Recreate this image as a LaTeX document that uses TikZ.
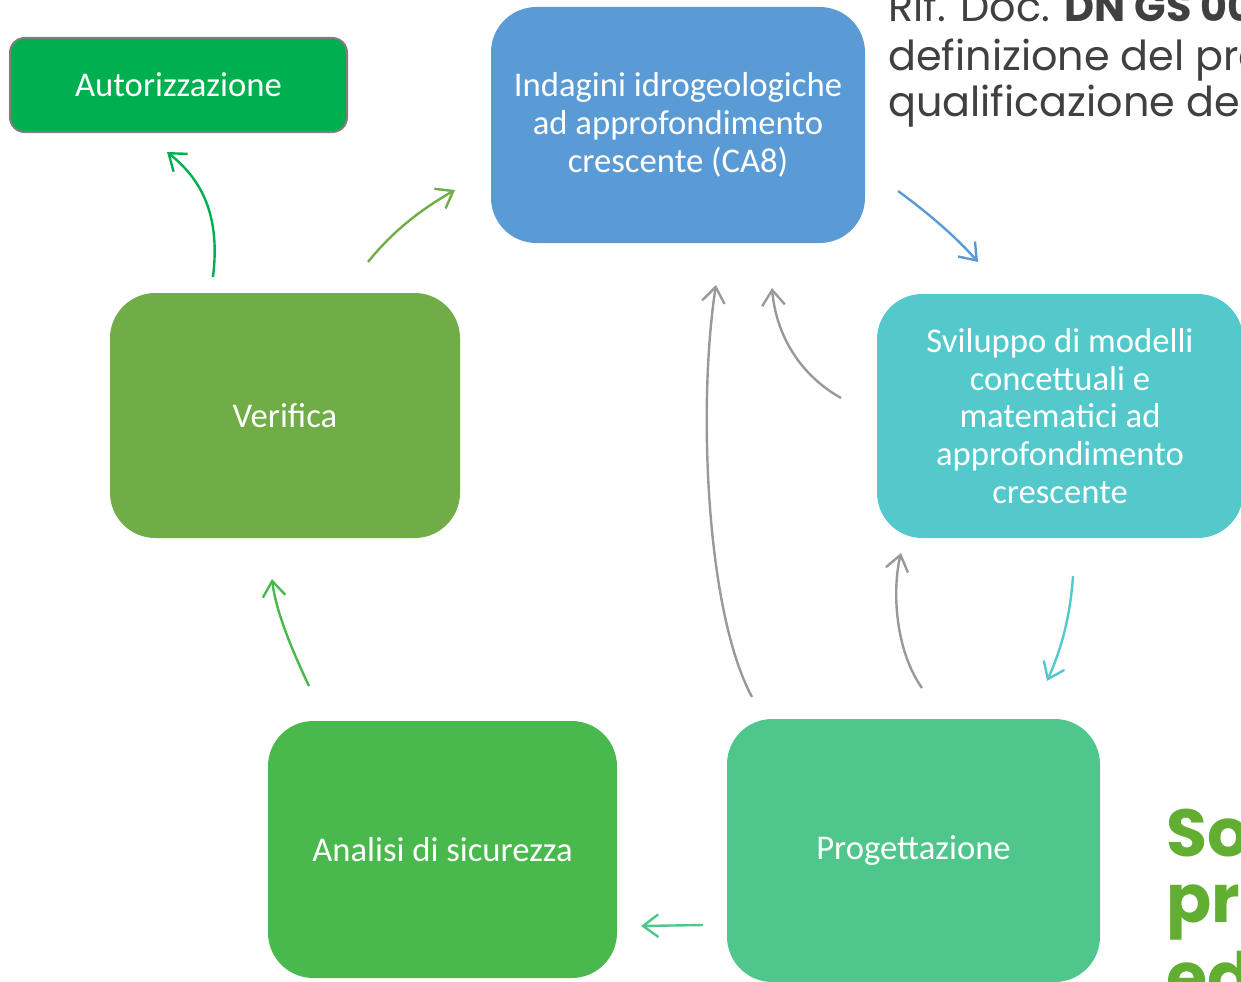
\documentclass[tikz,border=0pt]{standalone}
\usepackage{fontspec}
\setmainfont{Carlito}
\newfontfamily\geo{Poppins}
\usetikzlibrary{arrows.meta}
\definecolor{cAut}{HTML}{00B050}
\definecolor{cInd}{HTML}{5B9BD5}
\definecolor{cSvi}{HTML}{53C9CC}
\definecolor{cVer}{HTML}{70AD47}
\definecolor{cAna}{HTML}{49B94D}
\definecolor{cPro}{HTML}{4FC68C}
\definecolor{cGray}{HTML}{999999}
\definecolor{cBord}{HTML}{7F7F7F}
\definecolor{cTxt}{HTML}{404040}
\definecolor{cBig}{HTML}{62AE32}
\tikzset{
  box/.style={rectangle, rounded corners=34pt, text=white, align=center, inner sep=0pt,
    font=\fontsize{26}{28.3}\selectfont},
  arr/.style={line width=1.8pt, -{Straight Barb[length=11.5pt,width=17pt,line width=1.8pt]}},
  reftxt/.style={anchor=base west, inner sep=0pt, text=cTxt, font=\geo\fontsize{31}{35}\selectfont},
  bigtxt/.style={anchor=base west, inner sep=0pt, text=cBig, font=\geo\bfseries\fontsize{50}{60}\selectfont},
}
\begin{document}
\begin{tikzpicture}[x=0.75pt,y=-0.75pt]
\useasboundingbox (0,0) rectangle (1241,981);
\clip (0,0) rectangle (1241,981);

% boxes
\node[box, fill=cAut, draw=cBord, line width=1.5pt, rounded corners=11pt,
  minimum width=252.75pt, minimum height=70.5pt] (aut) at (178.5,85) {Autorizzazione};
\node[box, fill=cInd, minimum width=280.5pt, minimum height=177pt] (ind) at (678,125)
  {Indagini idrogeologiche\\ad approfondimento\\crescente (CA8)};
\node[box, fill=cSvi, minimum width=274.5pt, minimum height=183pt] (svi) at (1060,416)
  {Sviluppo di modelli\\concettuali e\\matematici ad\\approfondimento\\crescente};
\node[box, fill=cVer, minimum width=262.5pt, minimum height=183.75pt] (ver) at (285,415.5) {Verifica};
\node[box, fill=cAna, minimum width=261.75pt, minimum height=192.75pt] (ana) at (442.5,849.5) {Analisi di sicurezza};
\node[box, fill=cPro, minimum width=279.75pt, minimum height=197.25pt] (pro) at (913.5,850.5) {Progettazione};

% texts on the right
\node[reftxt] (r1) at (888,22) {Rif. Doc. \textbf{DN GS 00}};
\node[reftxt] (r2) at (888,70) {definizione del pro};
\node[reftxt] (r3) at (888,116) {qualificazione del};
\node[bigtxt] (b1) at (1166,856) {Sos};
\node[bigtxt] (b2) at (1166,922) {pro};
\node[bigtxt] (b3) at (1166,1000) {ed};

% arrow end points
\coordinate (a1s) at (213,277); \coordinate (a1e) at (167,152);
\coordinate (a2s) at (368,262); \coordinate (a2e) at (455,190);
\coordinate (a3s) at (898,191); \coordinate (a3e) at (978,262);
\coordinate (a4s) at (841,398); \coordinate (a4e) at (772,288);
\coordinate (a5s) at (752,697); \coordinate (a5e) at (716,285);
\coordinate (a6s) at (922,688); \coordinate (a6e) at (901,553);
\coordinate (a7s) at (1073,576); \coordinate (a7e) at (1047,681);
\coordinate (a8s) at (703,925); \coordinate (a8e) at (641,926);
\coordinate (a9s) at (309,686); \coordinate (a9e) at (272,579);

\draw[arr, cAut] (a1s) .. controls (220,220) and (205,182) .. (a1e);
\draw[arr, cVer] (a2s) .. controls (392,232) and (420,210) .. (a2e);
\draw[arr, cInd] (a3s) .. controls (928,213) and (955,236) .. (a3e);
\draw[arr, cGray] (a4s) .. controls (800,375) and (776,335) .. (a4e);
\draw[arr, cGray] (a5s) .. controls (705,610) and (698,400) .. (a5e);
\draw[arr, cGray] (a6s) .. controls (895,650) and (892,590) .. (a6e);
\draw[arr, cSvi] (a7s) .. controls (1070,620) and (1060,652) .. (a7e);
\draw[arr, cPro] (a8s) -- (a8e);
\draw[arr, cAna] (a9s) .. controls (292,650) and (276,612) .. (a9e);
\end{tikzpicture}
\end{document}
